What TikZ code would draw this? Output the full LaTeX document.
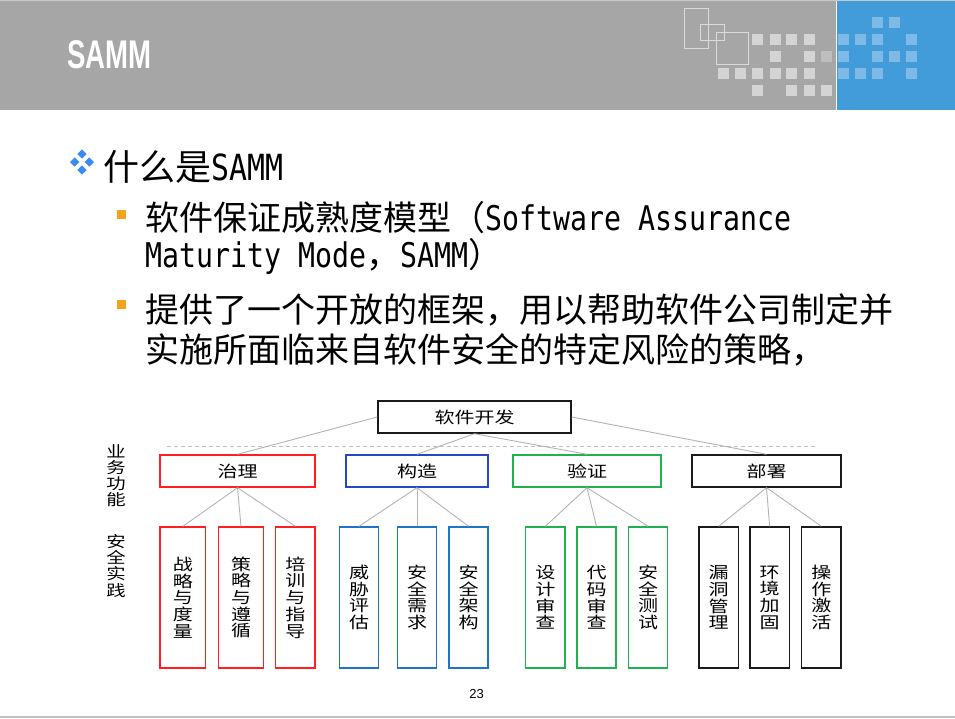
\documentclass[tikz,border=0pt]{standalone}
\usepackage{fontspec}
\setmainfont{Liberation Sans}
\newfontfamily\cjk{Noto Sans CJK SC}
\newfontfamily\dgfont{Noto Sans CJK SC}[FakeStretch=1.25]
\newfontfamily\latmono{DejaVu Sans Mono}[FakeStretch=0.83]
\newfontfamily\titlefont{Liberation Sans}[FakeStretch=0.69]

\definecolor{hdrgray}{HTML}{A6A6A6}
\definecolor{hdrtop}{HTML}{C9C9C9}
\definecolor{hdrblue}{HTML}{429CDA}
\definecolor{sqlight}{HTML}{D4D4D4}
\definecolor{sqdark}{HTML}{BEBEBE}
\definecolor{sqblue}{HTML}{7DBAE8}
\definecolor{sqline}{HTML}{DADADA}
\definecolor{dotorange}{HTML}{F7A21B}
\definecolor{dotblue}{HTML}{3D8BF0}
\definecolor{govred}{HTML}{FF1F1F}
\definecolor{consblue}{HTML}{2448C4}
\definecolor{leafblue}{HTML}{1E74C6}
\definecolor{vergreen}{HTML}{20B24E}
\definecolor{depblack}{HTML}{1A1A1A}
\definecolor{conngray}{HTML}{B3B3B3}
\definecolor{sepgray}{HTML}{BFBFBF}
\definecolor{footgray}{HTML}{C0C0C0}

\begin{document}
\begin{tikzpicture}[x=1pt,y=-1pt,
  bodytext/.style={anchor=base west, inner sep=0pt, font=\cjk\fontsize{34}{34}\selectfont},
  dgbox/.style={draw, line width=1.4pt, inner sep=0pt, align=center,
    font=\dgfont\fontsize{16}{16.7}\selectfont},
  lvltop/.style={dgbox, draw=depblack, minimum width=193pt, minimum height=32pt},
  lvlmid/.style={dgbox, minimum height=32pt},
  leaf/.style={dgbox, minimum height=141pt},
  conn/.style={draw=conngray, line width=0.9pt},
  dashsep/.style={draw=sepgray, line width=0.9pt, dash pattern=on 4pt off 3pt},
  sidelabel/.style={inner sep=0pt, align=center, font=\dgfont\fontsize{15.5}{16.2}\selectfont}]

\useasboundingbox (0,0) rectangle (955,718);

% ---------- header band ----------
\fill[hdrgray] (0,0) rectangle (955,110);
\fill[hdrblue] (837,0) rectangle (955,110);
\draw[white, line width=1pt] (836,0) -- (836,110);
\draw[hdrtop, line width=1pt] (0,0.5) -- (955,0.5);

% outlined squares
\draw[sqline, line width=1pt] (684.3,8.3) rectangle (708.3,48.3);
\draw[sqline, line width=1pt] (700.3,24.3) rectangle (724.3,40.3);
\draw[sqline, line width=1pt] (716.3,32.3) rectangle (748.3,64.3);

% small filled squares on gray
\foreach \px/\py in {752/34,770/34,786/34,804/34,
                     770/51,804/51,
                     718/68,735/68,752/68,770/68,786/68,804/68,
                     752/85,786/85,804/85,821/85}
  \fill[sqlight] (\px,\py) rectangle ++(11,11);
\fill[sqdark] (821,51) rectangle ++(11,11);

% small filled squares on blue
\foreach \px/\py in {872/17,889/17,
                     838/34,855/34,872/34,906/34,
                     838/51,872/51,889/51,906/51,
                     838/68,855/68,872/68,906/68}
  \fill[sqblue] (\px,\py) rectangle ++(11,11);

\node[anchor=base west, inner sep=0pt, text=white,
      font=\titlefont\bfseries\fontsize{40}{40}\selectfont] (title) at (67,68) {SAMM};

% ---------- bullets ----------
\foreach \dx/\dy in {82/154,74.7/162,89.3/162,82/170}
  \fill[dotblue] (\dx,\dy-4.7) -- (\dx+4.7,\dy) -- (\dx,\dy+4.7) -- (\dx-4.7,\dy) -- cycle;

\node[anchor=base west, inner sep=0pt, font=\cjk\fontsize{36}{36}\selectfont]
  (what) at (103,180) {什么是{\latmono SAMM}};

\fill[dotorange] (116.7,210) rectangle (126,219.3);
\node[bodytext] (def1) at (145,230) {软件保证成熟度模型（{\latmono Software Assurance}};
\node[bodytext] (def2) at (145,267) {{\latmono Maturity Mode}，{\latmono SAMM}）};

\fill[dotorange] (116.7,300) rectangle (126,309.3);
\node[bodytext] (use1) at (145,322) {提供了一个开放的框架，用以帮助软件公司制定并};
\node[bodytext] (use2) at (145,362) {实施所面临来自软件安全的特定风险的策略，};

% ---------- SAMM structure ----------
\coordinate (sepL) at (167,446);
\coordinate (sepR) at (815,446);
\draw[dashsep] (sepL) -- (sepR);

\node[sidelabel] (biz) at (116,475.8) {业\\务\\功\\能};
\node[sidelabel] (prac) at (116,565.8) {安\\全\\实\\践};

\node[lvltop] (root) at (474.5,417) {软件开发};

\node[lvlmid, draw=govred,   minimum width=155pt] (gov)  at (237.5,471) {治理};
\node[lvlmid, draw=consblue, minimum width=142pt] (cons) at (417,471)   {构造};
\node[lvlmid, draw=vergreen, minimum width=148pt] (ver)  at (587,471)   {验证};
\node[lvlmid, draw=depblack, minimum width=149pt] (dep)  at (766.5,471) {部署};

\node[leaf, draw=govred, minimum width=45.7pt] (g1) at (182.85,597.5) {战\\略\\与\\度\\量};
\node[leaf, draw=govred, minimum width=45.4pt] (g2) at (241,597.5)    {策\\略\\与\\遵\\循};
\node[leaf, draw=govred, minimum width=39.3pt] (g3) at (295.35,597.5) {培\\训\\与\\指\\导};

\node[leaf, draw=leafblue, minimum width=39.4pt] (c1) at (359,597.5)   {威\\胁\\评\\估};
\node[leaf, draw=leafblue, minimum width=39.4pt] (c2) at (417,597.5)   {安\\全\\需\\求};
\node[leaf, draw=leafblue, minimum width=39pt]   (c3) at (468.5,597.5) {安\\全\\架\\构};

\node[leaf, draw=vergreen, minimum width=39.3pt] (v1) at (545.35,597.5) {设\\计\\审\\查};
\node[leaf, draw=vergreen, minimum width=39pt]   (v2) at (596.5,597.5)  {代\\码\\审\\查};
\node[leaf, draw=vergreen, minimum width=39pt]   (v3) at (648.2,597.5)  {安\\全\\测\\试};

\node[leaf, draw=depblack, minimum width=39.3pt] (d1) at (718.65,597.5) {漏\\洞\\管\\理};
\node[leaf, draw=depblack, minimum width=39.3pt] (d2) at (769.65,597.5) {环\\境\\加\\固};
\node[leaf, draw=depblack, minimum width=39.3pt] (d3) at (821.35,597.5) {操\\作\\激\\活};

\draw[conn] (root.west)  -- (gov.north);
\draw[conn] (root.south) -- (cons.north);
\draw[conn] (root.south) -- (ver.north);
\draw[conn] (root.east)  -- (dep.north);

\foreach \p/\a/\b/\c in {gov/g1/g2/g3, cons/c1/c2/c3, ver/v1/v2/v3, dep/d1/d2/d3} {
  \draw[conn] (\p.south) -- (\a.north);
  \draw[conn] (\p.south) -- (\b.north);
  \draw[conn] (\p.south) -- (\c.north);
}

% ---------- footer ----------
\node[anchor=base, inner sep=0pt, font=\fontsize{13}{13}\selectfont] (pageno) at (476.5,698) {23};
\coordinate (footL) at (0,717.2);
\coordinate (footR) at (955,717.2);
\draw[footgray, line width=1.6pt] (footL) -- (footR);

\end{tikzpicture}
\end{document}
